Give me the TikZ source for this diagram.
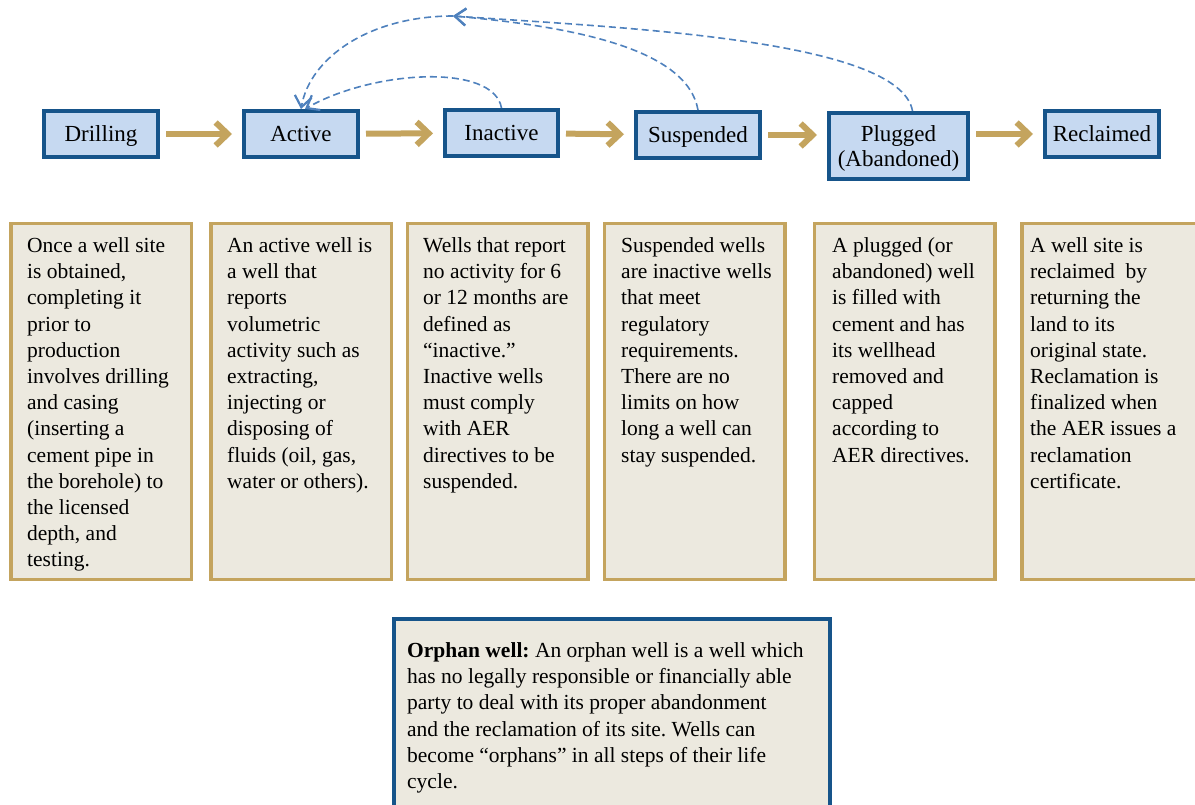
\documentclass[tikz,border=0pt]{standalone}
\usepackage{fontspec}
\setmainfont{Liberation Serif}
\usetikzlibrary{arrows.meta}
\definecolor{stageblue}{RGB}{198,217,241}
\definecolor{stageedge}{RGB}{22,84,138}
\definecolor{gold}{RGB}{196,164,94}
\definecolor{paper}{RGB}{236,233,223}
\definecolor{linkblue}{RGB}{79,129,189}
\frenchspacing
\begin{document}
\begin{tikzpicture}[x=1pt,y=1pt,
  stage/.style={draw=stageedge, fill=stageblue, line width=4pt, minimum height=46pt, inner sep=0pt,
    align=center, text height=16pt, text depth=0pt, font=\fontsize{23}{25}\selectfont},
  flow/.style={draw=gold, line width=6pt, -{Straight Barb[length=12pt,width=23pt]}, shorten <=6pt, shorten >=10pt},
  back/.style={draw=linkblue, line width=1.6pt, dash pattern=on 7pt off 4pt,
    -{Straight Barb[length=11pt,width=17pt,line width=2.2pt]}},
  desc/.style={draw=gold, fill=paper, line width=3.5pt, minimum width=180.5pt, minimum height=355.5pt, inner sep=0pt},
  desctext/.style={anchor=north west, inner sep=0pt, align=left, font=\fontsize{21.5}{26.2}\selectfont}]
\useasboundingbox (0,0) rectangle (1195,-805);
% life cycle stages
\node[stage, minimum width=114pt] (drilling) at (101,-134) {Drilling};
\node[stage, minimum width=114pt] (active) at (301,-134) {Active};
\node[stage, minimum width=113pt] (inactive) at (501.5,-133) {Inactive};
\node[stage, minimum width=124pt] (suspended) at (698,-135) {Suspended};
\node[stage, minimum width=139pt, minimum height=66pt, text height=41pt] (plugged) at (898.5,-146) {Plugged\\(Abandoned)};
\node[stage, minimum width=114pt] (reclaimed) at (1102,-134) {Reclaimed};
\draw[flow] (drilling) -- (active);
\draw[flow] (active) -- (inactive);
\draw[flow] (inactive) -- (suspended);
\draw[flow] (suspended) -- (suspended -| plugged.west);
\draw[flow] (plugged.east |- reclaimed) -- (reclaimed);
% way back to active
\coordinate (loop) at (453,-16);
\draw[back] (inactive.north) to[out=100, in=30, out looseness=0.6] ([xshift=4pt]active.north);
\draw[back] (loop) to[out=180, in=80, out looseness=1.2, in looseness=0.75] (active.north);
\draw[back] (suspended.north) to[out=100, in=-5, out looseness=0.6, in looseness=1.2] (loop);
\draw[back] ([xshift=14pt]plugged.north) to[out=100, in=-4, out looseness=0.4, in looseness=0.9] (loop);
% descriptions
\node[desc] (drillingbox) at (101,-401.5) {};
\node[desc] (activebox) at (301,-401.5) {};
\node[desc] (inactivebox) at (497.5,-401.5) {};
\node[desc] (suspendedbox) at (694.5,-401.5) {};
\node[desc] (pluggedbox) at (904.5,-401.5) {};
\node[desc] (reclaimedbox) at (1112,-401.5) {};
\node[desctext] (drillingtext) at (27,-237.3) {Once a well site\\is obtained,\\completing it\\prior to\\production\\involves drilling\\and casing\\(inserting a\\cement pipe in\\the borehole) to\\the licensed\\depth, and\\testing.};
\node[desctext] (activetext) at (227,-237.3) {An active well is\\a well that\\reports\\volumetric\\activity such as\\extracting,\\injecting or\\disposing of\\fluids (oil, gas,\\water or others).};
\node[desctext] (inactivetext) at (423,-237.3) {Wells that report\\no activity for 6\\or 12 months are\\defined as\\“inactive.”\\Inactive wells\\must comply\\with AER\\directives to be\\suspended.};
\node[desctext] (suspendedtext) at (621,-237.3) {Suspended wells\\are inactive wells\\that meet\\regulatory\\requirements.\\There are no\\limits on how\\long a well can\\stay suspended.};
\node[desctext] (pluggedtext) at (832,-237.3) {A plugged (or\\abandoned) well\\is filled with\\cement and has\\its wellhead\\removed and\\capped\\according to\\AER directives.};
\node[desctext] (reclaimedtext) at (1030,-237.3) {A well site is\\reclaimed\ \ by\\returning the\\land to its\\original state.\\Reclamation is\\finalized when\\the AER issues a\\reclamation\\certificate.};
% orphan wells
\node[draw=stageedge, fill=paper, line width=4pt, minimum width=436pt, minimum height=209pt, anchor=north west] (orphan) at (392,-617) {};
\node[desctext] (orphantext) at (407,-642.3) {\textbf{Orphan well:} An orphan well is a well which\\has no legally responsible or financially able\\party to deal with its proper abandonment\\and the reclamation of its site. Wells can\\become “orphans” in all steps of their life\\cycle.};
\end{tikzpicture}
\end{document}
